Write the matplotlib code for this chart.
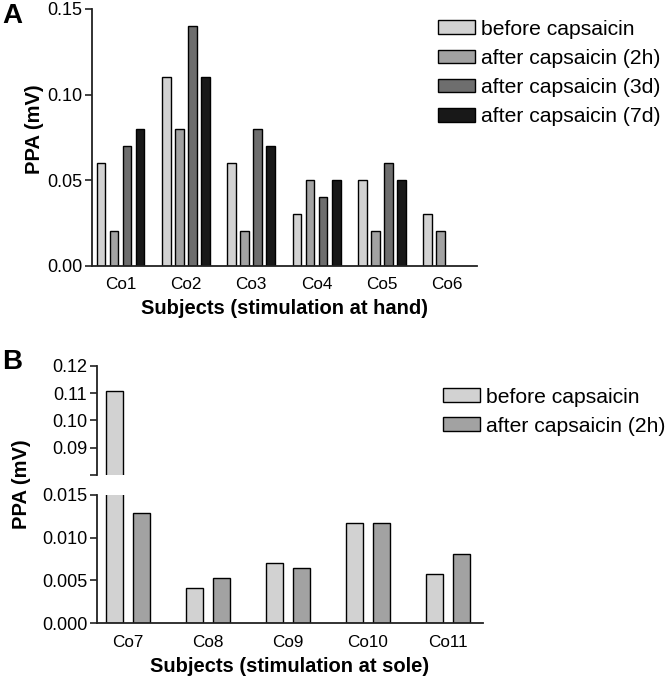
import numpy as np
import matplotlib.pyplot as plt

plt.rcParams['font.family'] = ['Liberation Sans', 'DejaVu Sans']

# panel A: stimulation at hand
hand_subjects = ['Co1', 'Co2', 'Co3', 'Co4', 'Co5', 'Co6']
hand_before = [0.06, 0.11, 0.06, 0.03, 0.05, 0.03]
hand_after_2h = [0.02, 0.08, 0.02, 0.05, 0.02, 0.02]
hand_after_3d = [0.07, 0.14, 0.08, 0.04, 0.06, np.nan]
hand_after_7d = [0.08, 0.11, 0.07, 0.05, 0.05, np.nan]

# panel B: stimulation at sole
sole_subjects = ['Co7', 'Co8', 'Co9', 'Co10', 'Co11']
sole_before = [0.111, 0.0041, 0.0070, 0.0117, 0.0058]
sole_after_2h = [0.0129, 0.0053, 0.0064, 0.0117, 0.0081]

labels = ['before capsaicin', 'after capsaicin (2h)',
          'after capsaicin (3d)', 'after capsaicin (7d)']
colors = ['#d2d2d2', '#a2a2a2', '#6e6e6e', '#181818']

spine_col = '#222222'
ytick_fs = 13
xtick_fs = 12.3
label_fs = 14.5
leg_fs = 15.2


def style(ax):
    ax.spines['top'].set_visible(False)
    ax.spines['right'].set_visible(False)
    for s in ['left', 'bottom']:
        ax.spines[s].set_linewidth(1.3)
        ax.spines[s].set_color(spine_col)
    ax.tick_params(axis='y', length=5, width=1.2, color=spine_col,
                   labelsize=ytick_fs, pad=2)
    ax.tick_params(axis='x', length=0, labelsize=xtick_fs, pad=8.5)


def add_legend(ax, top):
    ax.legend(loc='upper left', bbox_to_anchor=top,
              bbox_transform=fig.transFigure, frameon=False, fontsize=leg_fs,
              handlelength=1.75, handleheight=0.62, handletextpad=0.3,
              labelspacing=0.48, borderpad=0, borderaxespad=0)


fig = plt.figure(figsize=(6.71, 6.8), dpi=100)

# ---- A ----
axA = fig.add_axes([0.1367, 0.6093, 0.5737, 0.3775])
x = np.arange(len(hand_subjects))
series = [hand_before, hand_after_2h, hand_after_3d, hand_after_7d]
offs = [-0.3, -0.1, 0.1, 0.3]
for vals, off, c, lab in zip(series, offs, colors, labels):
    axA.bar(x + off, vals, width=0.133, color=c, edgecolor='black',
            linewidth=1.0, label=lab)
axA.set_xlim(-0.44, 5.45)
axA.set_ylim(0, 0.15)
axA.set_yticks([0, 0.05, 0.10, 0.15])
axA.set_yticklabels(['0.00', '0.05', '0.10', '0.15'])
axA.set_xticks(x)
axA.set_xticklabels(hand_subjects)
style(axA)
axA.set_xlabel('Subjects (stimulation at hand)', fontsize=label_fs,
               fontweight='bold', labelpad=5)
add_legend(axA, (0.6528, 0.971))

# ---- B (broken y axis) ----
axBt = fig.add_axes([0.1446, 0.3015, 0.5752, 0.1603])
axBb = fig.add_axes([0.1446, 0.0838, 0.5752, 0.1883])
xb = np.arange(len(sole_subjects))
for ax in (axBt, axBb):
    ax.bar(xb - 0.169, sole_before, width=0.22, color=colors[0],
           edgecolor='black', linewidth=1.0, label=labels[0])
    ax.bar(xb + 0.169, sole_after_2h, width=0.22, color=colors[1],
           edgecolor='black', linewidth=1.0, label=labels[1])
    ax.set_xlim(-0.39, 4.44)
    style(ax)

axBt.set_ylim(0.08, 0.12)
axBt.set_yticks([0.08, 0.09, 0.10, 0.11, 0.12])
axBt.set_yticklabels(['', '0.09', '0.10', '0.11', '0.12'])
axBt.spines['bottom'].set_visible(False)
axBt.set_xticks([])

axBb.set_ylim(0, 0.015)
axBb.set_yticks([0, 0.005, 0.010, 0.015])
axBb.set_yticklabels(['0.000', '0.005', '0.010', '0.015'])
axBb.set_xticks(xb)
axBb.set_xticklabels(sole_subjects)
axBb.set_xlabel('Subjects (stimulation at sole)', fontsize=label_fs,
                fontweight='bold', labelpad=5)
add_legend(axBb, (0.660, 0.430))

# y labels and panel letters
fig.text(35 / 671, 1 - 129 / 680, 'PPA (mV)', rotation=90, ha='center',
         va='center', fontsize=label_fs, fontweight='bold')
fig.text(22 / 671, 1 - 484 / 680, 'PPA (mV)', rotation=90, ha='center',
         va='center', fontsize=label_fs, fontweight='bold')
fig.text(2 / 671, 1 - 16 / 680, 'A', ha='left', va='center',
         fontsize=20, fontweight='bold')
fig.text(2 / 671, 1 - 362 / 680, 'B', ha='left', va='center',
         fontsize=20, fontweight='bold')

fig.savefig('out.png', dpi=100)
